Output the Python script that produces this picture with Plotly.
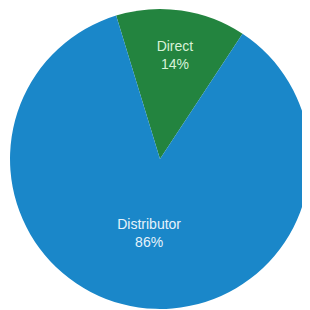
import plotly.graph_objects as go

labels = ["Direct", "Distributor"]
values = [14, 86]
colors = ["#23843f", "#1a87c9"]
text_colors = ["#d8f2d8", "#e6f3fb"]

fig = go.Figure(go.Pie(
    labels=labels,
    values=values,
    sort=False,
    direction="clockwise",
    rotation=-17,
    marker=dict(colors=colors, line=dict(width=0)),
    textinfo="label+percent",
    texttemplate="%{label}<br>%{percent:.0%}",
    textposition="inside",
    insidetextorientation="horizontal",
    insidetextfont=dict(family="Liberation Sans, Arial, sans-serif", size=14, color=text_colors),
    domain=dict(x=[0.0065, 0.974], y=[0.026, 1.0]),
    showlegend=False,
    hoverinfo="skip",
))
fig.update_layout(
    width=310, height=310,
    margin=dict(l=0, r=0, t=0, b=0),
    paper_bgcolor="white",
    plot_bgcolor="white",
)
fig.write_html("out.html")
